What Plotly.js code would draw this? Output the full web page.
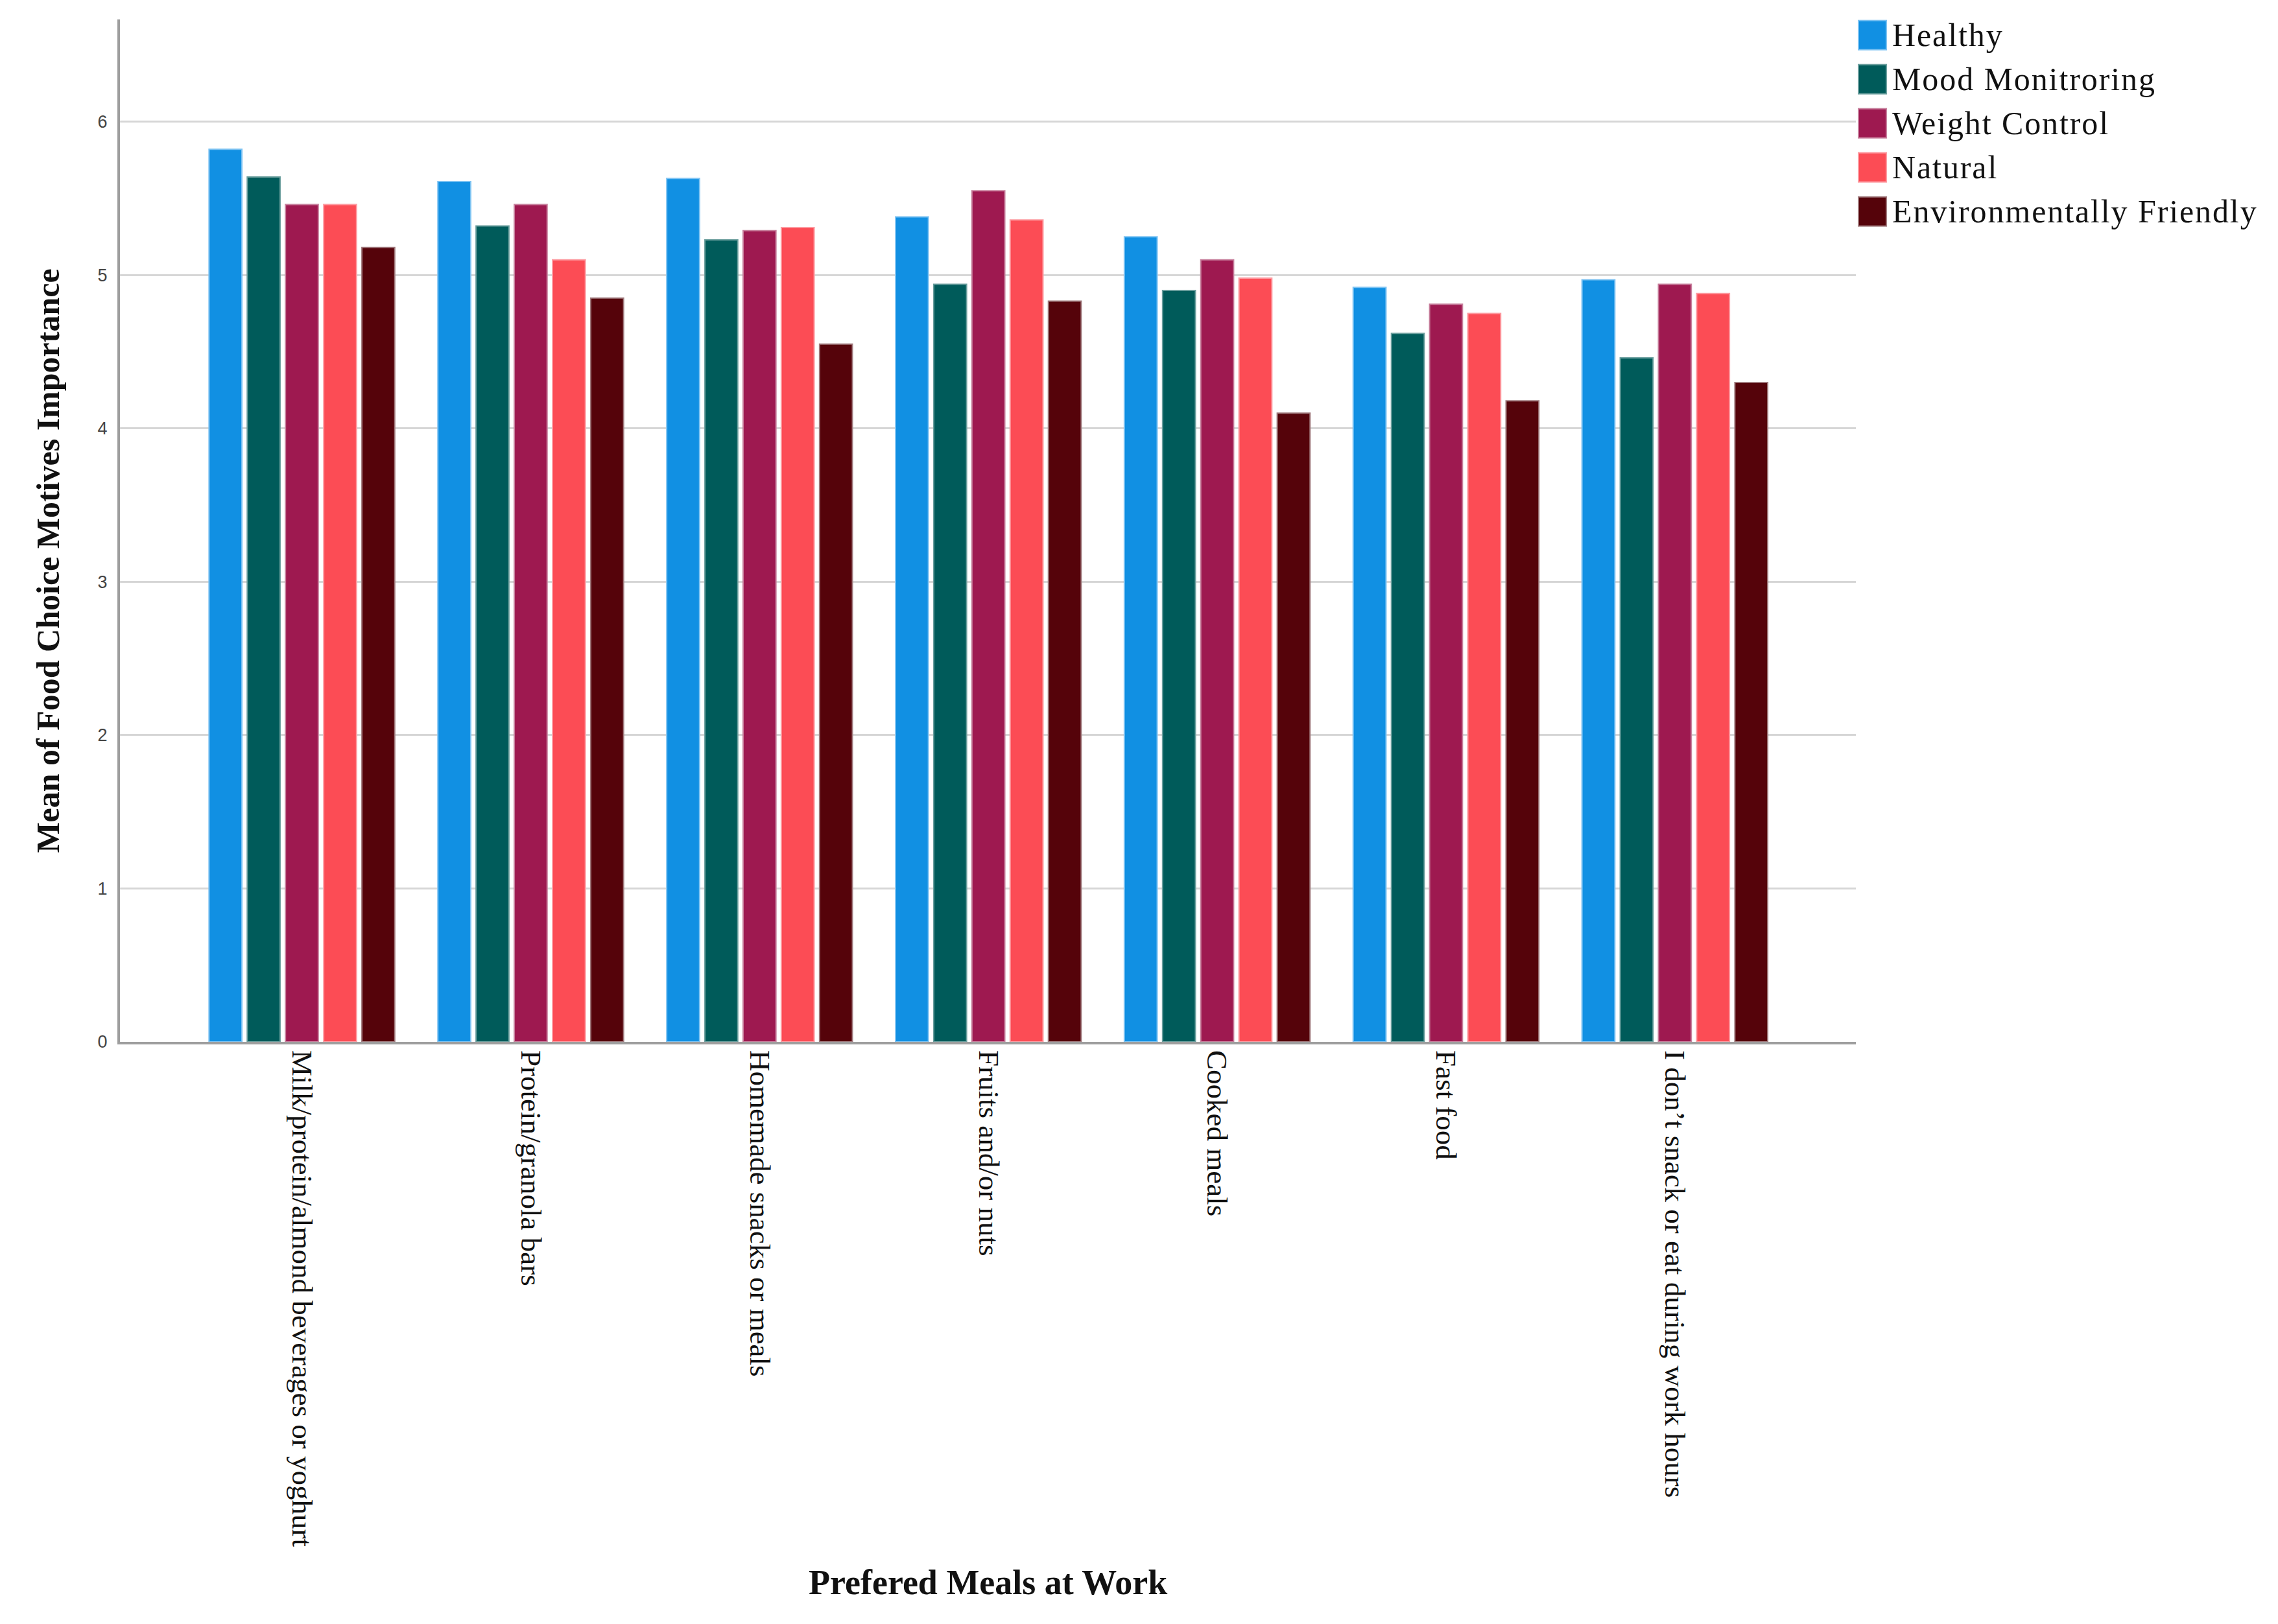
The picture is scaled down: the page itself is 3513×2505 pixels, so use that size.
<!DOCTYPE html>
<html>
<head>
<meta charset="utf-8">
<script src="https://cdn.plot.ly/plotly-3.0.1.min.js"></script>
<style>
html,body{margin:0;padding:0;background:#fff;}
#chart{width:3513px;height:2505px;}
.legendtext{letter-spacing:1.9px;}
</style>
</head>
<body>
<div id="chart"></div>
<script>
const categories = [
  "Milk/protein/almond beverages or yoghurt",
  "Protein/granola bars",
  "Homemade snacks or meals",
  "Fruits and/or nuts",
  "Cooked meals",
  "Fast food",
  "I don\u2019t snack or eat during work hours"
];
const seriesNames = ["Healthy", "Mood Monitroring", "Weight Control", "Natural", "Environmentally Friendly"];
const healthy      = [5.82, 5.61, 5.63, 5.38, 5.25, 4.92, 4.97];
const mood         = [5.64, 5.32, 5.23, 4.94, 4.90, 4.62, 4.46];
const weight       = [5.46, 5.46, 5.29, 5.55, 5.10, 4.81, 4.94];
const natural      = [5.46, 5.10, 5.31, 5.36, 4.98, 4.75, 4.88];
const envFriendly  = [5.18, 4.85, 4.55, 4.83, 4.10, 4.18, 4.30];
const yTicks = [0, 1, 2, 3, 4, 5, 6];
const xTitle = "Prefered Meals at Work";
const yTitle = "Mean of Food Choice Motives Importance";

const colors     = ["#1190E3", "#005B5A", "#9E1950", "#FC4C55", "#55030A"];
const edgeColors = ["#7cc2f2", "#6a9e9d", "#c77f9c", "#fd9aa0", "#a07a7d"];
const values = [healthy, mood, weight, natural, envFriendly];

const serif = "Liberation Serif, Times New Roman, serif";
const traces = values.map((v, i) => ({
  type: "bar",
  name: seriesNames[i],
  x: categories,
  y: v,
  marker: {color: colors[i], line: {color: edgeColors[i], width: 2}},
  hoverinfo: "x+y+name"
}));

const layout = {
  width: 3513,
  height: 2505,
  margin: {l: 185, r: 651, t: 19, b: 898, pad: 0},
  paper_bgcolor: "#ffffff",
  plot_bgcolor: "#ffffff",
  barmode: "group",
  bargap: 0.165,
  bargroupgap: 0.14,
  showlegend: true,
  legend: {
    x: 0.9985, xanchor: "left", y: 1.0113, yanchor: "top",
    font: {family: serif, size: 50, color: "#111"},
    bgcolor: "rgba(0,0,0,0)", borderwidth: 0,
    itemwidth: 50,
    tracegroupgap: 0
  },
  xaxis: {
    type: "category",
    range: [-0.795, 6.791],
    tickangle: 90,
    ticks: "",
    showgrid: false,
    showline: true, linecolor: "#9e9e9e", linewidth: 4,
    zeroline: false,
    tickfont: {family: serif, size: 45, color: "#111"},
    automargin: false
  },
  yaxis: {
    range: [0, 6.667],
    tickvals: yTicks,
    ticktext: yTicks.map(String),
    ticks: "",
    showgrid: true, gridcolor: "#d6d6d6", gridwidth: 3,
    showline: true, linecolor: "#9e9e9e", linewidth: 4,
    zeroline: false,
    tickfont: {family: "Liberation Sans, Arial, sans-serif", size: 27, color: "#444"},
    ticklabelstandoff: 10,
    automargin: false
  },
  annotations: [
    {text: yTitle, xref: "paper", yref: "paper", x: -0.0415, y: 0.4707,
     xanchor: "center", yanchor: "middle", textangle: -90, showarrow: false,
     font: {family: serif, size: 50, color: "#111", weight: "bold"}},
    {text: xTitle, xref: "paper", yref: "paper", x: 0.5, y: -0.5287,
     xanchor: "center", yanchor: "middle", showarrow: false,
     font: {family: serif, size: 54, color: "#111", weight: "bold"}}
  ]
};

Plotly.newPlot("chart", traces, layout, {displayModeBar: false, staticPlot: true}).then(() => {
  const NS = "http://www.w3.org/2000/svg";
  document.querySelectorAll(".legend g.traces").forEach((g, i) => {
    const t = g.querySelector("text.legendtext");
    const pts = g.querySelector(".legendpoints");
    if (!t || !pts) return;
    const bb = t.getBBox();
    const tx = bb.x;
    const cy = bb.y + bb.height * 0.5;
    pts.style.display = "none";
    const r = document.createElementNS(NS, "rect");
    r.setAttribute("x", tx - 52);
    r.setAttribute("y", cy - 22);
    r.setAttribute("width", 43);
    r.setAttribute("height", 45);
    r.setAttribute("fill", colors[i]);
    r.setAttribute("stroke", edgeColors[i]);
    r.setAttribute("stroke-width", 2);
    g.appendChild(r);
  });
});
</script>
</body>
</html>
